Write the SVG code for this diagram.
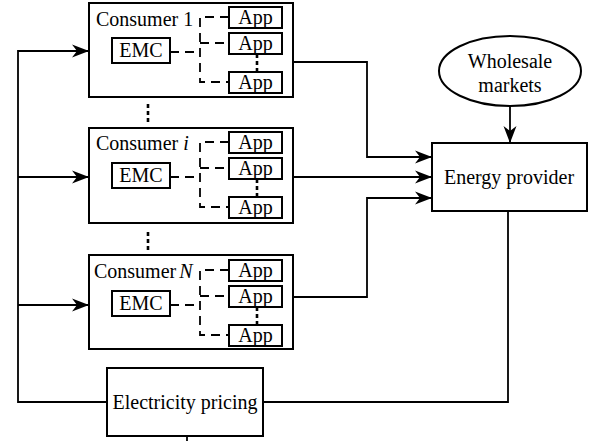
<svg xmlns="http://www.w3.org/2000/svg" width="595" height="441" viewBox="0 0 595 441">
<defs>
<style>
text{font-family:"Liberation Serif","Times New Roman",serif;font-size:20px;fill:#000}
.box{fill:#fff;stroke:#000;stroke-width:2}
.ln{fill:none;stroke:#000;stroke-width:1.8}
.dash{fill:none;stroke:#000;stroke-width:1.8;stroke-dasharray:9,6}
.dot{fill:none;stroke:#000;stroke-width:2.6;stroke-dasharray:4,3}
</style>
<marker id="ah" markerUnits="userSpaceOnUse" markerWidth="20" markerHeight="16" viewBox="-18 -8 20 16" refX="0" refY="0" orient="auto">
<path d="M0,0 L-17,-6.5 L-12,0 L-17,6.5 Z" fill="#000"/>
</marker>
<g id="consumerInner">
<rect class="box" x="112" y="35" width="58" height="25"/>
<text x="141" y="54" text-anchor="middle">EMC</text>
<rect class="box" x="229" y="4" width="53" height="21"/>
<text x="255.5" y="21" text-anchor="middle">App</text>
<rect class="box" x="229" y="30" width="53" height="21"/>
<text x="255.5" y="47" text-anchor="middle">App</text>
<rect class="box" x="229" y="69" width="53" height="21"/>
<text x="255.5" y="86" text-anchor="middle">App</text>
<path class="dash" d="M170,49 H200"/>
<path class="dash" d="M229,14 H200 V79 H229"/>
<path class="dash" d="M200,40 H229"/>
<path class="dot" d="M257,51 V69"/>
</g>
</defs>
<g id="consumer1">
<rect class="box" x="89" y="3" width="204" height="94"/>
<text x="96" y="26">Consumer 1</text>
<use href="#consumerInner" transform="translate(0,3)"/>
</g>
<g id="consumerI">
<rect class="box" x="89" y="128" width="204" height="95"/>
<text x="96" y="150">Consumer <tspan font-style="italic">i</tspan></text>
<use href="#consumerInner" transform="translate(0,128)"/>
</g>
<g id="consumerN">
<rect class="box" x="89" y="255" width="204" height="94"/>
<text x="94" y="278">Consumer<tspan dx="3" font-style="italic">N</tspan></text>
<use href="#consumerInner" transform="translate(0,256)"/>
</g>
<g id="wholesale">
<ellipse class="box" cx="510" cy="71" rx="71" ry="35"/>
<text x="510" y="68" text-anchor="middle">Wholesale</text>
<text x="510" y="92" text-anchor="middle">markets</text>
</g>
<g id="energyProvider">
<rect class="box" x="432" y="143" width="155" height="68"/>
<text x="509" y="184" text-anchor="middle">Energy provider</text>
</g>
<g id="pricing">
<rect class="box" x="107" y="368" width="156" height="68"/>
<text x="185" y="409" text-anchor="middle">Electricity pricing</text>
</g>
<g id="connectors">
<path class="ln" d="M293,62 H367 V157 H432" marker-end="url(#ah)"/>
<path class="ln" d="M293,177 H432" marker-end="url(#ah)"/>
<path class="ln" d="M293,297 H367 V198 H432" marker-end="url(#ah)"/>
<path class="ln" d="M510,106 V143" marker-end="url(#ah)"/>
<path class="ln" d="M263,402 H508 V211"/>
<path class="ln" d="M107,402 H18 V51 H89" marker-end="url(#ah)"/>
<path class="ln" d="M18,177 H89" marker-end="url(#ah)"/>
<path class="ln" d="M18,305 H89" marker-end="url(#ah)"/>
<path class="dot" d="M148,104 V122"/>
<path class="dot" d="M148,232 V250"/>
<path class="ln" d="M187,436 V441"/>
</g>
</svg>
